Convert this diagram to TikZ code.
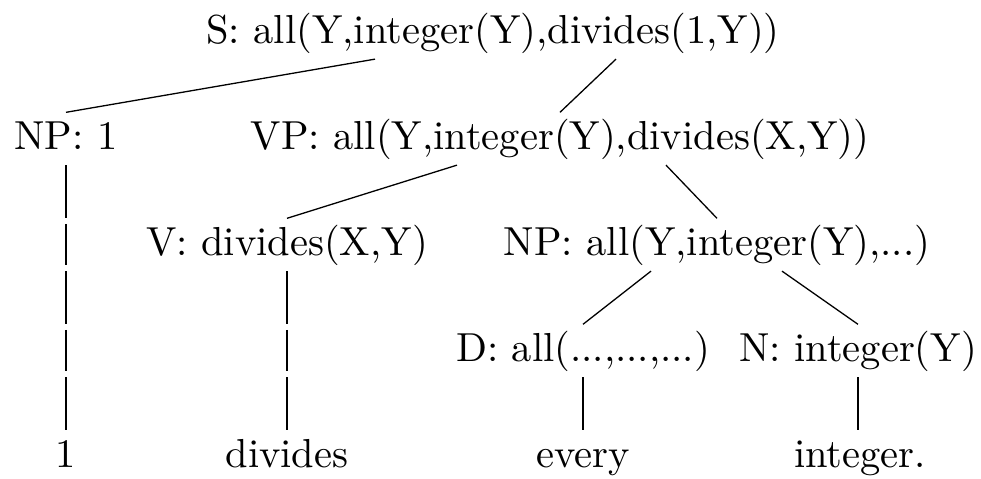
\documentclass[tikz,border=0pt]{standalone}
\usetikzlibrary{calc}

\tikzset{
  lbl/.style={anchor=base, inner sep=0pt, text height=9.14pt, text depth=3.58pt},
  pass/.style={shorten <=1.4pt, shorten >=1.4pt},
}

\begin{document}
\begin{tikzpicture}[x=0.2469pt, y=-0.2469pt, line width=0.32pt]
\useasboundingbox (0,0) rectangle (981,479);

\node[lbl] (S) at (493,44) {S: all(Y,integer(Y),divides(1,Y))};
\node[lbl] (NP1) at (66,150) {NP: 1};
\node[lbl] (VP) at (560,150) {VP: all(Y,integer(Y),divides(X,Y))};
\node[lbl] (V) at (287,256) {V: divides(X,Y)};
\node[lbl] (NP2) at (717,256) {NP: all(Y,integer(Y),...)};
\node[lbl] (D) at (583,362) {D: all(...,...,...)};
\node[lbl] (N) at (858,362) {N: integer(Y)};
\node[lbl] (one) at (66,468) {1};
\node[lbl] (divides) at (287,468) {divides};
\node[lbl] (every) at (583,468) {every};
\node[lbl] (integer) at (860,468) {integer.};

% empty rows the leaf lines run through
\node[lbl] (c1r2) at (66,256) {};
\node[lbl] (c1r3) at (66,362) {};
\node[lbl] (c2r3) at (287,362) {};

\draw ($(S.south)+(-118,0)$) -- (NP1.north);
\draw ($(S.south)+(123,0)$) -- (VP.north);
\draw ($(VP.south)+(-103,0)$) -- (V.north);
\draw ($(VP.south)+(106,0)$) -- (NP2.north);
\draw ($(NP2.south)+(-66,0)$) -- (D.north);
\draw ($(NP2.south)+(65,0)$) -- (N.north);

\draw (NP1.south) -- (c1r2.north);
\draw[pass] (c1r2.north) -- (c1r2.south);
\draw (c1r2.south) -- (c1r3.north);
\draw[pass] (c1r3.north) -- (c1r3.south);
\draw (c1r3.south) -- (one.north);

\draw (V.south) -- (c2r3.north);
\draw[pass] (c2r3.north) -- (c2r3.south);
\draw (c2r3.south) -- (divides.north);

\draw (D.south) -- (every.north);
\draw (N.south) -- (N.south |- integer.north);

\end{tikzpicture}
\end{document}
